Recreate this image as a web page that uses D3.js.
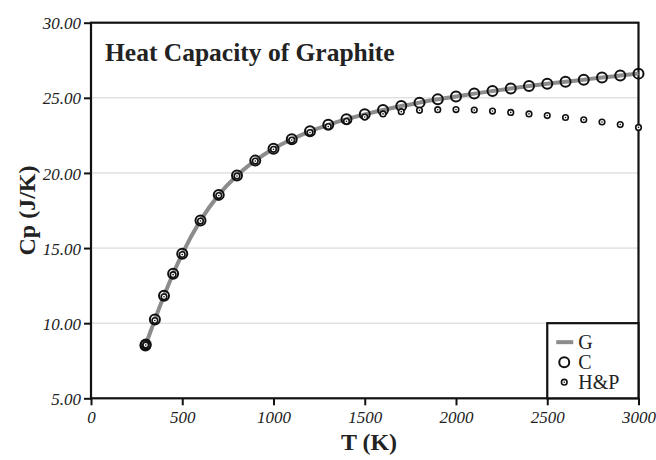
<!DOCTYPE html>
<html>
<head>
<meta charset="utf-8">
<script src="https://cdn.jsdelivr.net/npm/d3@7/dist/d3.min.js"></script>
<style>
  html, body { margin: 0; padding: 0; background: #fff; }
  svg { display: block; }
  .tick text { font-family: "Liberation Serif", "Times New Roman", serif; font-style: italic; font-size: 17px; fill: #222; }
</style>
</head>
<body>
<svg id="chart" width="656" height="460"></svg>
<script>
// Temperatures (K) at which heat capacity is tabulated
const temps = [298.15, 300, 350, 400, 450, 500, 600, 700, 800, 900, 1000,
  1100, 1200, 1300, 1400, 1500, 1600, 1700, 1800, 1900, 2000,
  2100, 2200, 2300, 2400, 2500, 2600, 2700, 2800, 2900, 3000];

// G: fitted curve (J/K)
const cpG = [8.52, 8.58, 10.24, 11.82, 13.29, 14.62, 16.84, 18.54, 19.83, 20.82, 21.61,
  22.24, 22.77, 23.20, 23.58, 23.90, 24.19, 24.45, 24.68, 24.90, 25.09,
  25.28, 25.45, 25.62, 25.78, 25.93, 26.07, 26.21, 26.35, 26.48, 26.61];

// C: tabulated values (J/K)
const cpC = [8.52, 8.58, 10.24, 11.82, 13.29, 14.62, 16.84, 18.54, 19.83, 20.82, 21.61,
  22.24, 22.77, 23.20, 23.58, 23.90, 24.19, 24.45, 24.68, 24.90, 25.09,
  25.28, 25.45, 25.62, 25.78, 25.93, 26.07, 26.21, 26.35, 26.48, 26.61];

// H&P: Holland & Powell values (J/K)
const cpHP = [8.49, 8.55, 10.18, 11.76, 13.23, 14.57, 16.80, 18.50, 19.80, 20.79, 21.57,
  22.19, 22.69, 23.09, 23.44, 23.72, 23.93, 24.08, 24.17, 24.21, 24.22,
  24.19, 24.12, 24.03, 23.93, 23.82, 23.69, 23.54, 23.39, 23.22, 23.03];

const xTicks = [0, 500, 1000, 1500, 2000, 2500, 3000];
const yTicks = [5, 10, 15, 20, 25, 30];
const legendItems = ["G", "C", "H&P"];

const serif = '"Liberation Serif", "Times New Roman", serif';
const svg = d3.select("#chart");

const plotLeft = 91, plotRight = 638.5, plotTop = 22.7, plotBottom = 398.3;
const x = d3.scaleLinear().domain([0, 3000]).range([plotLeft, plotRight]);
const y = d3.scaleLinear().domain([5, 30]).range([plotBottom, plotTop]);

// horizontal grid
svg.append("g")
  .selectAll("line")
  .data(yTicks.filter(v => v > 5 && v < 30))
  .join("line")
  .attr("x1", plotLeft).attr("x2", plotRight)
  .attr("y1", d => y(d)).attr("y2", d => y(d))
  .attr("stroke", "#d2d2d2").attr("stroke-width", 1);

// axes
const yAxis = svg.append("g")
  .attr("transform", `translate(${plotLeft},0)`)
  .call(d3.axisLeft(y).tickValues(yTicks).tickFormat(d3.format(".2f")).tickSize(7).tickPadding(3));
const xAxis = svg.append("g")
  .attr("transform", `translate(0,${plotBottom})`)
  .call(d3.axisBottom(x).tickValues(xTicks).tickFormat(d3.format("d")).tickSize(7).tickPadding(6));
[yAxis, xAxis].forEach(g => {
  g.select(".domain").remove();
  g.selectAll(".tick line").attr("stroke", "#111").attr("stroke-width", 2);
});
yAxis.selectAll(".tick text").attr("dy", "0.36em");

// plot frame
svg.append("rect")
  .attr("x", plotLeft).attr("y", plotTop)
  .attr("width", plotRight - plotLeft).attr("height", plotBottom - plotTop)
  .attr("fill", "none").attr("stroke", "#111").attr("stroke-width", 2.2);

// G curve
const line = d3.line()
  .x((d, i) => x(temps[i]))
  .y(d => y(d))
  .curve(d3.curveMonotoneX);
svg.append("path")
  .datum(cpG)
  .attr("d", line)
  .attr("fill", "none")
  .attr("stroke", "#8c8c8c")
  .attr("stroke-width", 4);

// C markers
svg.append("g")
  .selectAll("circle")
  .data(cpC)
  .join("circle")
  .attr("cx", (d, i) => x(temps[i]))
  .attr("cy", d => y(d))
  .attr("r", 5)
  .attr("fill", "none")
  .attr("stroke", "#111")
  .attr("stroke-width", 2);

// H&P markers
function hpMarker(g) {
  g.append("circle").attr("r", 2.8).attr("fill", "#fff").attr("stroke", "#111").attr("stroke-width", 1.6);
  g.append("circle").attr("r", 0.8).attr("fill", "#111");
}
svg.append("g")
  .selectAll("g")
  .data(cpHP)
  .join("g")
  .attr("transform", (d, i) => `translate(${x(temps[i])},${y(d)})`)
  .each(function () { hpMarker(d3.select(this)); });

// title
svg.append("text")
  .attr("x", 105).attr("y", 61)
  .attr("font-family", serif).attr("font-weight", "bold").attr("font-size", 25.5)
  .attr("fill", "#222")
  .text("Heat Capacity of Graphite");

// axis titles
svg.append("text")
  .attr("x", 369).attr("y", 450)
  .attr("text-anchor", "middle")
  .attr("font-family", serif).attr("font-weight", "bold").attr("font-size", 24)
  .attr("fill", "#222")
  .text("T (K)");
svg.append("text")
  .attr("transform", `translate(35,${(plotTop + plotBottom) / 2}) rotate(-90)`)
  .attr("text-anchor", "middle")
  .attr("font-family", serif).attr("font-weight", "bold").attr("font-size", 24)
  .attr("fill", "#222")
  .text("Cp (J/K)");

// legend
const lg = svg.append("g");
lg.append("rect")
  .attr("x", x(2500)).attr("y", y(10))
  .attr("width", plotRight - x(2500)).attr("height", plotBottom - y(10))
  .attr("fill", "#fff").attr("stroke", "#111").attr("stroke-width", 2.2);
legendItems.forEach((name, i) => {
  const cy = y(10) + 19 + i * 20;
  const sx = x(2500) + 17;
  if (i === 0) {
    lg.append("line").attr("x1", sx - 8).attr("x2", sx + 9).attr("y1", cy).attr("y2", cy)
      .attr("stroke", "#8c8c8c").attr("stroke-width", 4);
  } else if (i === 1) {
    lg.append("circle").attr("cx", sx).attr("cy", cy).attr("r", 5)
      .attr("fill", "none").attr("stroke", "#111").attr("stroke-width", 2);
  } else {
    const m = lg.append("g").attr("transform", `translate(${sx},${cy})`);
    hpMarker(m);
  }
  lg.append("text")
    .attr("x", sx + 14).attr("y", cy).attr("dy", "0.35em")
    .attr("font-family", serif).attr("font-size", 20)
    .attr("fill", "#222")
    .text(name);
});
</script>
</body>
</html>
